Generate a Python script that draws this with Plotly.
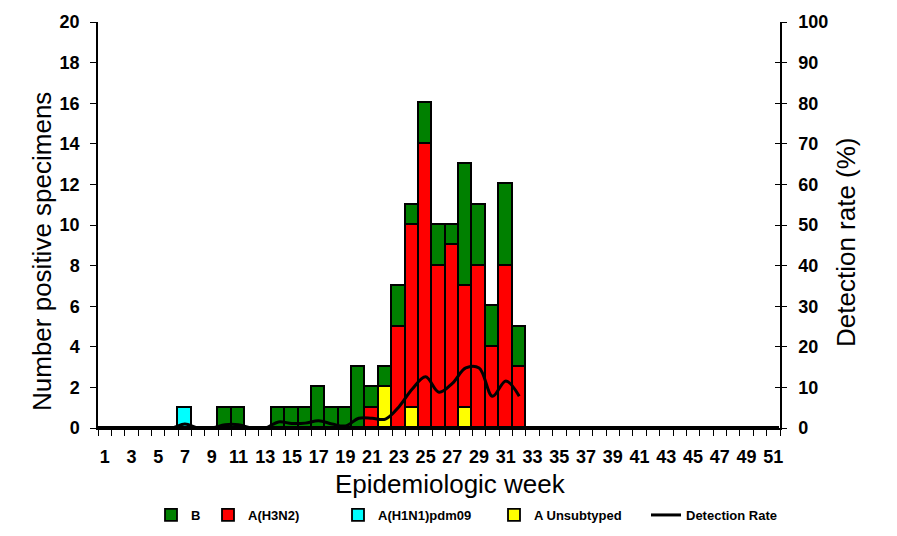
import plotly.graph_objects as go

weeks = list(range(1, 52))
n = len(weeks)

def pad(vals):
    return vals + [0] * (n - len(vals))

# weeks 1..32
b_vals = pad([0, 0, 0, 0, 0, 0, 0, 0, 0, 1, 1, 0, 0, 1, 1, 1, 2, 1, 1, 3,
              1, 1, 2, 1, 2, 2, 1, 6, 3, 2, 4, 2])
h3n2_vals = pad([0, 0, 0, 0, 0, 0, 0, 0, 0, 0, 0, 0, 0, 0, 0, 0, 0, 0, 0, 0,
                 1, 0, 5, 9, 14, 8, 9, 6, 8, 4, 8, 3])
h1n1_vals = pad([0, 0, 0, 0, 0, 0, 1])
unsub_vals = pad([0, 0, 0, 0, 0, 0, 0, 0, 0, 0, 0, 0, 0, 0, 0, 0, 0, 0, 0, 0,
                  0, 2, 0, 1, 0, 0, 0, 1])
rate_weeks = list(range(1, 33))
rate_vals = [0, 0, 0, 0, 0, 0, 1.0, 0, 0, 0.8, 0.8, 0, 0, 1.5, 1.1, 1.2, 1.8, 1.0, 0.5, 2.4,
             2.4, 2.2, 5.2, 9.6, 12.6, 8.8, 11.0, 14.8, 14.8, 7.8, 11.6, 7.8]

x_labels = list(range(1, 52, 2))

font_family = "Liberation Sans, Arial, sans-serif"
legend_font = dict(size=13, family="Liberation Sans Narrow, Liberation Sans, Arial Narrow, sans-serif",
                   weight="bold", color="black")
title_font = dict(size=26, family=font_family, color="black")
tick_font = dict(size=18, family=font_family, weight="bold", color="black")
fig = go.Figure()

series = [
    ("A Unsubtyped", unsub_vals, "#FFFF00", "legend4"),
    ("A(H1N1)pdm09", h1n1_vals, "#00FFFF", "legend3"),
    ("A(H3N2)", h3n2_vals, "#FF0000", "legend2"),
    ("B", b_vals, "#008000", "legend"),
]
for name, vals, color, lg in series:
    fig.add_trace(go.Bar(
        x=weeks, y=vals, name=name, marker_color=color,
        marker_line=dict(color="black", width=1.8),
        width=1.0, legend=lg,
    ))

fig.add_trace(go.Scatter(
    x=rate_weeks, y=rate_vals, name="Detection Rate", mode="lines",
    line=dict(color="black", width=3, shape="spline", smoothing=1.0),
    yaxis="y2", legend="legend5",
))

# dummy trace to draw inner ticks of the right axis
fig.add_trace(go.Scatter(x=[None], y=[None], yaxis="y3", showlegend=False, hoverinfo="skip"))

def lg(xpx):
    return dict(orientation="h", x=(xpx - 98) / 682, xanchor="left", y=(428 - 515) / 406,
                yanchor="middle", font=legend_font, bgcolor="rgba(0,0,0,0)",
                itemwidth=30, borderwidth=0)

def px(xp, yp):
    return (xp - 98) / 682, (428 - yp) / 406

annotations = []
for text, (xp, yp), ang in [
    ("Number positive specimens", (42, 252), -90),
    ("Detection rate (%)", (846, 242), -90),
    ("Epidemiologic week", (450, 484), 0),
]:
    ax_, ay_ = px(xp, yp)
    annotations.append(dict(text=text, x=ax_, y=ay_, xref="paper", yref="paper",
                            xanchor="center", yanchor="middle", showarrow=False,
                            textangle=ang, font=title_font))

fig.update_layout(
    width=897, height=536,
    barmode="stack", bargap=0,
    plot_bgcolor="white", paper_bgcolor="white",
    margin=dict(l=90, r=125, t=14, b=116, autoexpand=False),
    font=dict(family=font_family, color="black"),
    showlegend=True,
    legend=lg(151), legend2=lg(208), legend3=lg(338), legend4=lg(494), legend5=lg(646),
    annotations=annotations,
    xaxis=dict(
        range=[0.5, 51.5], tickvals=x_labels, ticktext=[str(v) for v in x_labels],
        ticks="", showline=True, linecolor="black", linewidth=1.5,
        tickfont=tick_font, ticklabelstandoff=12,
        minor=dict(tick0=0.5, dtick=1, ticks="outside", ticklen=6, tickcolor="black", showgrid=False),
        showgrid=False, zeroline=False, automargin=False,
    ),
    yaxis=dict(
        range=[0, 20], dtick=2, ticks="outside", ticklen=6, tickcolor="black",
        showline=True, linecolor="black", linewidth=1.5, showgrid=False, zeroline=False,
        tickfont=tick_font, ticklabelstandoff=7,
        automargin=False,
    ),
    yaxis2=dict(
        range=[0, 100], dtick=10, overlaying="y", side="right", ticks="outside", ticklen=5,
        tickcolor="black", showline=True, linecolor="black", linewidth=1.5, showgrid=False,
        zeroline=False, tickfont=tick_font, ticklabelstandoff=8,
        automargin=False,
    ),
    yaxis3=dict(
        range=[0, 100], dtick=10, overlaying="y", side="right", ticks="inside", ticklen=5,
        tickcolor="black", showticklabels=False, showline=False, showgrid=False, zeroline=False,
        automargin=False,
    ),
)

fig.write_html("out.html")
